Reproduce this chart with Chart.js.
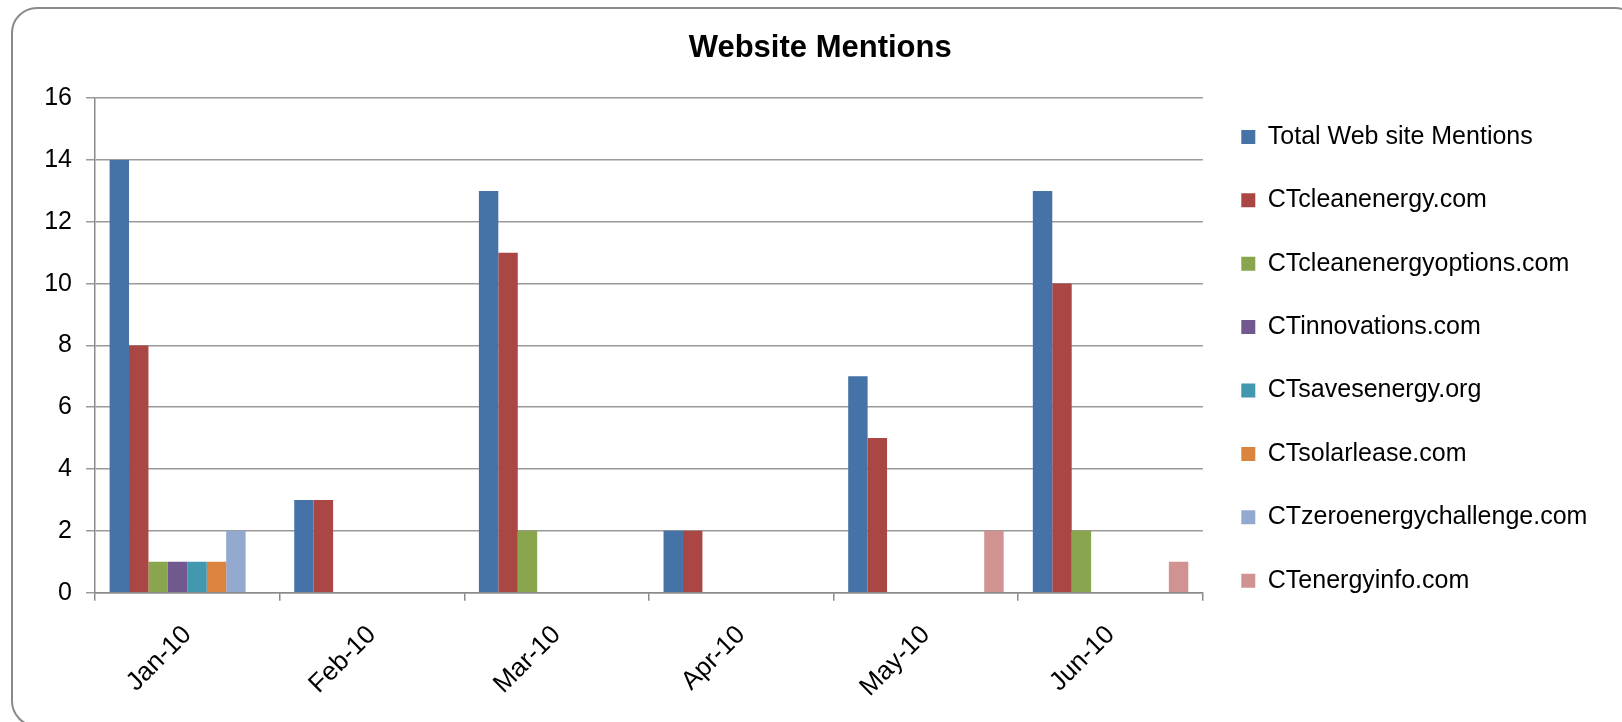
<!DOCTYPE html>
<html>
<head>
<meta charset="utf-8">
<script src="https://cdn.jsdelivr.net/npm/chart.js@4/dist/chart.umd.min.js"></script>
<style>
  html, body { margin: 0; padding: 0; background: #fff; overflow: hidden; }
  #wrap { position: relative; width: 1622px; height: 722px; overflow: hidden; }
  #frame { position: absolute; left: 11px; top: 7px; width: 1630px; height: 720px;
           border: 2px solid #8a8a8a; border-radius: 26px; box-sizing: border-box; }
  canvas { position: absolute; left: 0; top: 0; }
</style>
</head>
<body>
<div id="wrap">
  <div id="frame"></div>
  <canvas id="c" width="1622" height="722"></canvas>
</div>
<script>
const categories = ['Jan-10', 'Feb-10', 'Mar-10', 'Apr-10', 'May-10', 'Jun-10'];
const seriesNames = ['Total Web site Mentions', 'CTcleanenergy.com', 'CTcleanenergyoptions.com',
  'CTinnovations.com', 'CTsavesenergy.org', 'CTsolarlease.com', 'CTzeroenergychallenge.com', 'CTenergyinfo.com'];
const totalMentions        = [14, 3, 13, 2, 7, 13];
const ctCleanEnergy        = [8, 3, 11, 2, 5, 10];
const ctCleanEnergyOptions = [1, 0, 2, 0, 0, 2];
const ctInnovations        = [1, 0, 0, 0, 0, 0];
const ctSavesEnergy        = [1, 0, 0, 0, 0, 0];
const ctSolarLease         = [1, 0, 0, 0, 0, 0];
const ctZeroEnergy         = [2, 0, 0, 0, 0, 0];
const ctEnergyInfo         = [0, 0, 0, 0, 2, 1];
const yTicks = [0, 2, 4, 6, 8, 10, 12, 14, 16];
const colors = ['#4572A7', '#AA4643', '#89A54E', '#71588F', '#4198AF', '#DB843D', '#93A9CF', '#D19392'];

const seriesValues = [totalMentions, ctCleanEnergy, ctCleanEnergyOptions, ctInnovations,
  ctSavesEnergy, ctSolarLease, ctZeroEnergy, ctEnergyInfo];

Chart.defaults.font.family = "'Liberation Sans', Arial, sans-serif";
Chart.defaults.color = '#000';

new Chart(document.getElementById('c'), {
  type: 'bar',
  data: {
    labels: categories,
    datasets: seriesNames.map((name, i) => ({
      label: name,
      data: seriesValues[i],
      backgroundColor: colors[i],
      borderWidth: 0,
      categoryPercentage: 0.842,
      barPercentage: 1.0
    }))
  },
  options: {
    responsive: false,
    animation: false,
    layout: { padding: { left: 43, right: 24.6, top: 8, bottom: 0 } },
    plugins: {
      title: {
        display: true,
        text: 'Website Mentions',
        font: { size: 31, weight: 'bold' },
        color: '#000',
        padding: { top: 22, bottom: 31 }
      },
      legend: {
        position: 'right',
        align: 'start',
        maxWidth: 600,
        title: { display: true, text: ' ', font: { size: 10 }, padding: { top: 33, bottom: 33 } },
        labels: {
          boxWidth: 14,
          boxHeight: 14,
          padding: 38.4,
          font: { size: 25 },
          color: '#000'
        }
      },
      tooltip: { enabled: false }
    },
    scales: {
      x: {
        grid: { display: true, drawOnChartArea: false, offset: true, tickLength: 8, color: '#8a8a8a', lineWidth: 1.5 },
        border: { display: true, color: '#8a8a8a', width: 1.5 },
        ticks: { minRotation: 45, maxRotation: 45, padding: 19, font: { size: 26 }, color: '#000' }
      },
      y: {
        min: 0,
        max: 16,
        afterFit: (s) => { s.width = 52; },
        afterBuildTicks: (s) => { s.ticks = yTicks.map(v => ({ value: v })); },
        grid: { color: '#9a9a9a', lineWidth: 1.5, tickLength: 9 },
        border: { display: true, color: '#8a8a8a', width: 1.5 },
        ticks: { padding: 14, font: { size: 25 }, color: '#000' }
      }
    }
  }
});
</script>
</body>
</html>
